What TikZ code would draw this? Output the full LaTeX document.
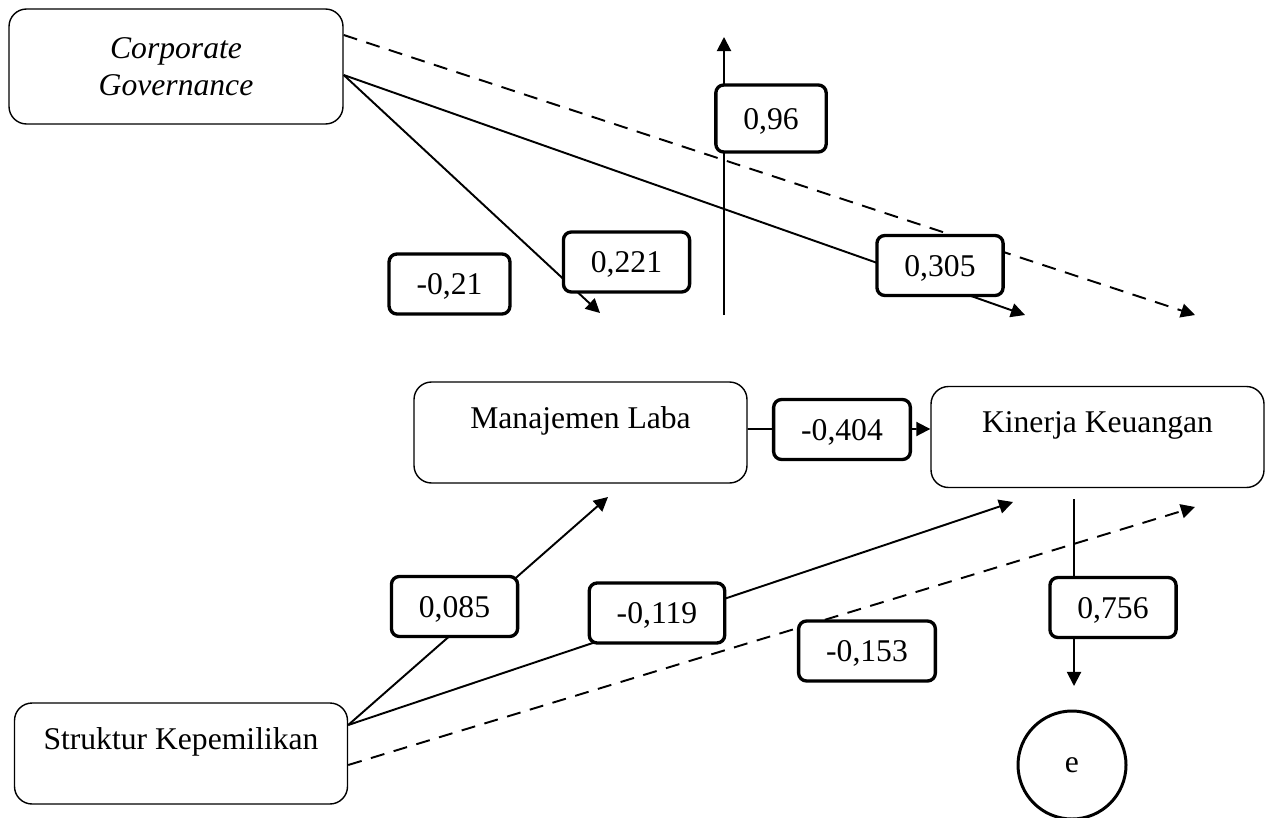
\documentclass[tikz,border=0pt]{standalone}
\usepackage{fontspec}
\setmainfont{Liberation Serif}
\usepackage{tikz}
\usetikzlibrary{arrows.meta,positioning}
\tikzset{
  varbox/.style={rectangle,rounded corners=10pt,draw=black,line width=0.8pt,
    fill=white,align=center,font=\fontsize{18}{21}\selectfont,
    minimum width=6.66cm,inner xsep=0pt,inner ysep=0pt,
    text height=0.92cm,text depth=1.1cm},
  cgbox/.style={rectangle,rounded corners=10pt,draw=black,line width=0.8pt,
    fill=white,align=center,font=\fontsize{18}{21}\selectfont\itshape,
    minimum width=6.68cm,minimum height=2.3cm},
  coefbox/.style={rectangle,rounded corners=4.5pt,draw=black,line width=1.9pt,
    fill=white,font=\fontsize{18}{21}\selectfont,
    inner xsep=0.55cm,inner ysep=0pt,text height=13pt,text depth=0.5pt,
    minimum height=1.2cm},
  errnode/.style={circle,draw=black,line width=1.7pt,minimum size=2.16cm,
    font=\fontsize{18}{21}\selectfont},
  patharr/.style={-{Triangle[length=8pt,width=8pt]},line width=1.1pt},
  dasharr/.style={patharr,dash pattern=on 8pt off 5.5pt},
}
\begin{document}
\begin{tikzpicture}
  \useasboundingbox (0,0) rectangle (25.44,-16.34);

  \node[cgbox] (cg) at (3.52,-1.33) {Corporate\\Governance};
  \node[varbox] (ml) at (11.61,-8.65) {Manajemen Laba};
  \node[varbox] (kk) at (21.95,-8.74) {Kinerja Keuangan};
  \node[varbox] (sk) at (3.62,-15.07) {Struktur Kepemilikan};
  \node[errnode] (e) at (21.44,-15.3) {e};

  % free ends of the paths
  \coordinate (t221) at (12.0,-6.26);
  \coordinate (t305) at (20.5,-6.3);
  \coordinate (tcgd) at (23.9,-6.3);
  \coordinate (v0) at (14.48,-6.3);
  \coordinate (v1) at (14.48,-0.74);
  \coordinate (t085) at (12.16,-9.94);
  \coordinate (t119) at (20.26,-10.04);
  \coordinate (tskd) at (23.9,-10.14);
  \coordinate (e0) at (21.48,-9.98);
  \coordinate (e1) at (21.48,-13.72);

  \draw[patharr] ([yshift=-0.17cm]cg.east) -- (t221);
  \draw[patharr] ([yshift=-0.17cm]cg.east) -- (t305);
  \draw[dasharr] ([yshift=0.63cm]cg.east) -- (tcgd);
  \draw[patharr] (v0) -- (v1);
  \draw[patharr] ([yshift=0.07cm]ml.east) -- ([yshift=0.16cm]kk.west);
  \draw[patharr] ([yshift=0.57cm]sk.east) -- (t085);
  \draw[patharr] ([yshift=0.57cm]sk.east) -- (t119);
  \draw[dasharr] ([yshift=-0.23cm]sk.east) -- (tskd);
  \draw[patharr] (e0) -- (e1);

  \node[coefbox,minimum height=1.34cm] (l096) at (15.42,-2.37) {0,96};
  \node[coefbox] (l021) at (8.99,-5.68) {-0,21};
  \node[coefbox] (l221) at (12.53,-5.24) {0,221};
  \node[coefbox] (l305) at (18.80,-5.31) {0,305};
  \node[coefbox] (l404) at (16.84,-8.59) {-0,404};
  \node[coefbox] (l085) at (9.09,-12.13) {0,085};
  \node[coefbox] (l119) at (13.14,-12.26) {-0,119};
  \node[coefbox] (l153) at (17.34,-13.02) {-0,153};
  \node[coefbox] (l756) at (22.26,-12.15) {0,756};
\end{tikzpicture}
\end{document}
